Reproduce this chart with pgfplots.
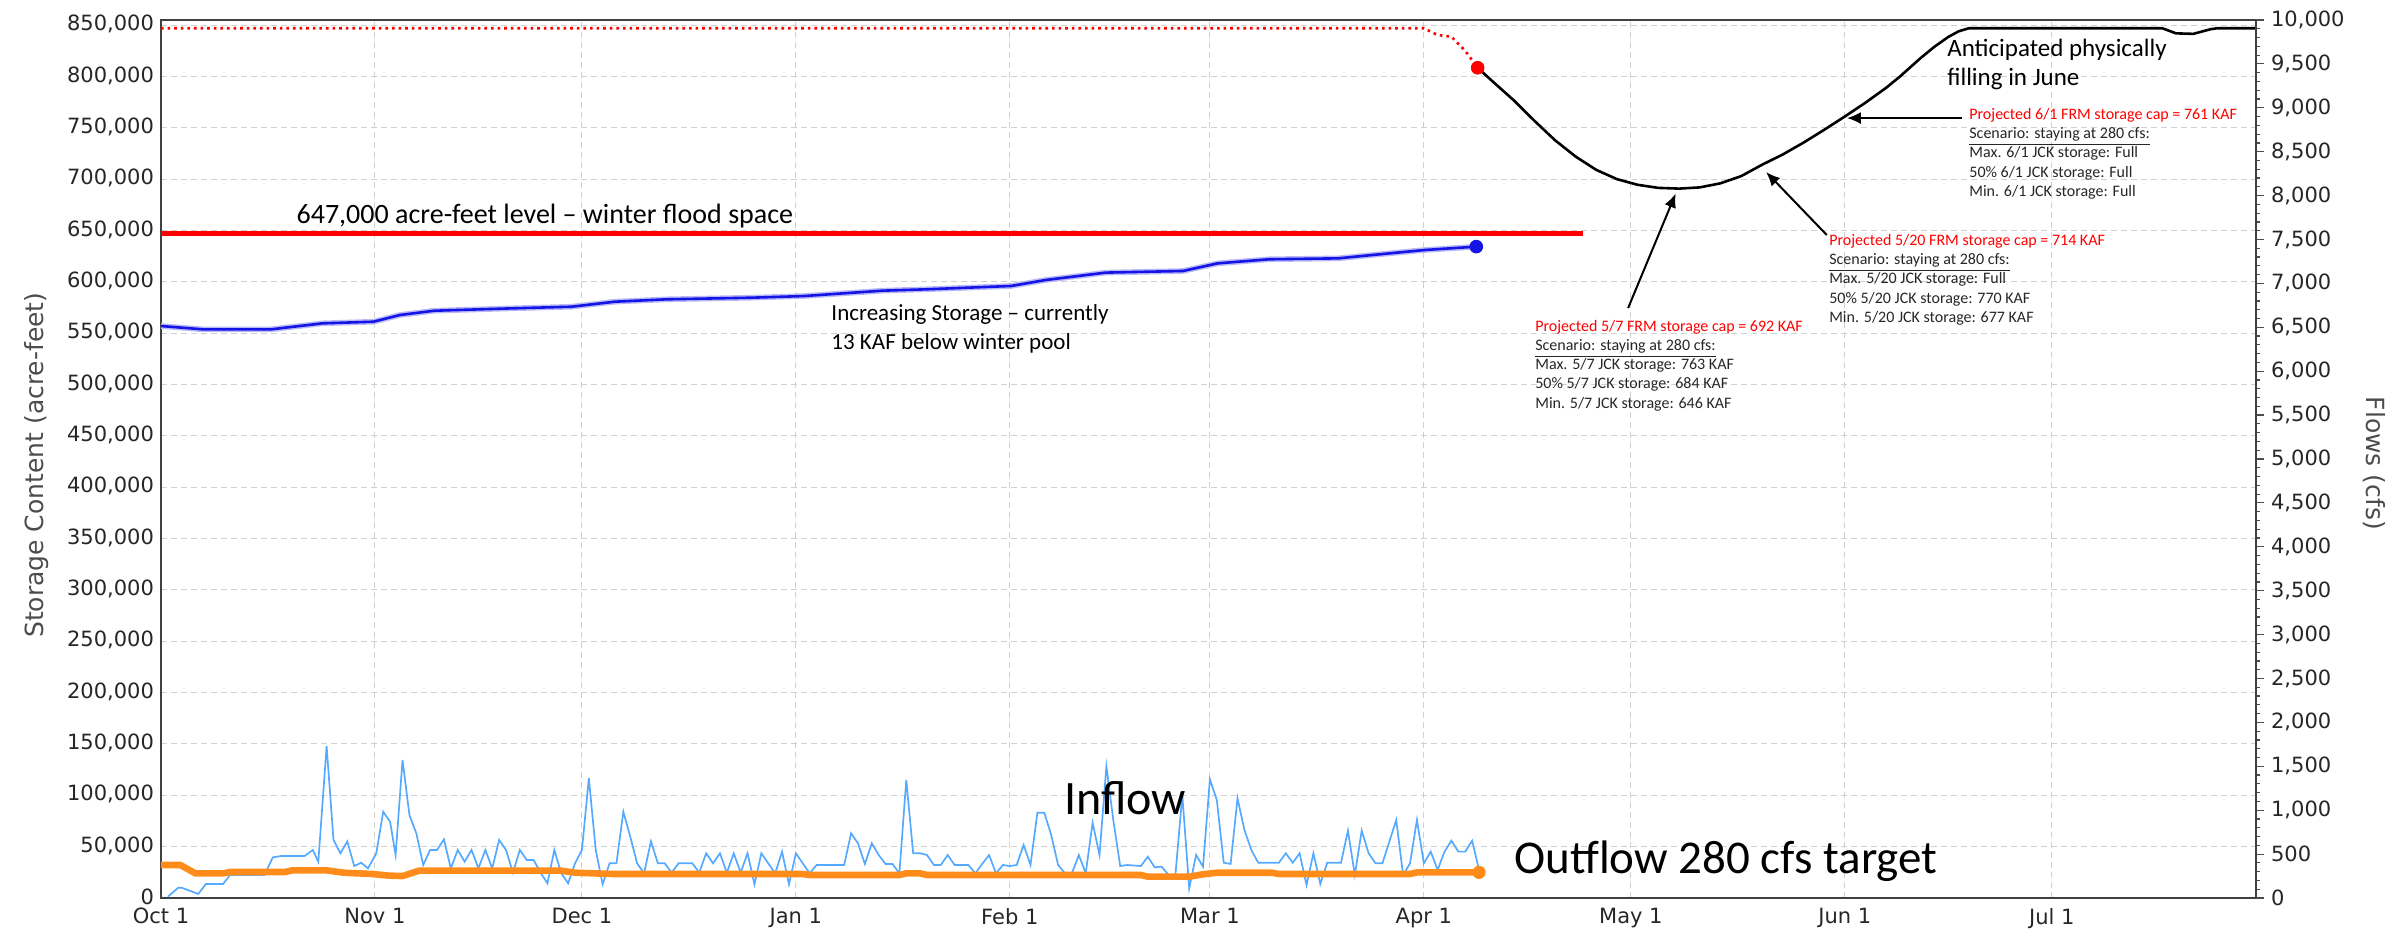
\documentclass[border=0pt]{standalone}
\usepackage{fontspec}
\setmainfont{DejaVu Sans}
\newfontfamily\calibri{Carlito}
\usepackage{pgfplots}
\pgfplotsset{compat=1.18}
\usetikzlibrary{arrows.meta}
\definecolor{storblue}{HTML}{1414E6}
\definecolor{inblue}{HTML}{55AAFF}
\definecolor{outorange}{HTML}{FF8C1A}

\begin{document}
\begin{tikzpicture}
\useasboundingbox (-80.5pt,-19.5pt) rectangle (1123pt,449pt);
% left axis: storage (acre-feet)
\begin{axis}[
  at={(0pt,0pt)}, anchor=south west,
  scale only axis, width=1047.5pt, height=439pt,
  xmin=0, xmax=303.6, ymin=0, ymax=855000,
  xtick={0,31,61,92,123,152,183,213,244,274},
  xticklabels={Oct 1,Nov 1,Dec 1,Jan 1,Feb 1,Mar 1,Apr 1,May 1,Jun 1,Jul 1},
  ytick distance=50000, scaled y ticks=false,
  yticklabel={\pgfmathprintnumber[fixed,precision=0,1000 sep={,},assume math mode=true]{\tick}},
  tick label style={font=\fontsize{10.5}{12}\selectfont, text=black!85},
  xticklabel style={yshift=-1.5pt},
  yticklabel style={yshift=0.5pt},
  major tick length=0pt,
  xmajorgrids, ymajorgrids,
  grid style={densely dashed, black!18, line width=0.5pt},
  axis line style={black!75, line width=1pt},
  every axis y label/.style={at={(axis description cs:-0.0592,0.493)}, rotate=90, anchor=center},
  ylabel={Storage Content (acre-feet)},
  ylabel style={font=\fontsize{12.5}{14}\selectfont, text=black!70},
]
% winter flood space level
\addplot[red, line width=2.2pt] coordinates {(0,647000) (206,647000)};
% full pool / FRM cap so far
\addplot[red, dotted, line width=1.3pt] coordinates {
  (0,847000) (183,847000) (185,840400) (187,838700) (189,825000) (190.8,808500)};
% projected FRM storage cap
\addplot[black, line width=1.3pt] coordinates {
  (190.8,808500) (193,795000) (196,777000) (199,757000) (202,738000) (205,722000)
  (208,709000) (211,700000) (214,694500) (217,691500) (220,690800) (223,692000)
  (226,696000) (229,703000) (232,714000) (235,724000) (238,735500) (241,748000)
  (244,761000) (247,774500) (250,789000) (252,800000) (255,818000) (257,829000)
  (259,838500) (260.5,844000) (262,847000) (290,847000) (292,842000) (294.5,841500)
  (297,846000) (298,847000) (303.6,847000)};
% storage
\addplot[storblue!30, line width=2.8pt] coordinates {
  (0,557000) (6,553800) (16,553800) (23.4,559600) (30.8,561200) (34.6,567700)
  (39.6,571900) (50.8,574200) (59.5,575800) (65.8,580700) (73.3,583000) (85.7,584600)
  (93.2,586200) (104.5,591400) (110.7,592700) (123.2,596000) (128.2,601800) (136.9,609000)
  (148.1,610600) (153.1,618000) (160.6,622000) (170.6,622900) (175.6,626200) (183.1,631000)
  (190.6,634300)};
\addplot[storblue, line width=1.3pt] coordinates {
  (0,557000) (6,553800) (16,553800) (23.4,559600) (30.8,561200) (34.6,567700)
  (39.6,571900) (50.8,574200) (59.5,575800) (65.8,580700) (73.3,583000) (85.7,584600)
  (93.2,586200) (104.5,591400) (110.7,592700) (123.2,596000) (128.2,601800) (136.9,609000)
  (148.1,610600) (153.1,618000) (160.6,622000) (170.6,622900) (175.6,626200) (183.1,631000)
  (190.6,634300)};
\addplot[only marks, mark=*, mark size=3.2pt, red] coordinates {(190.8,808500)};
\addplot[only marks, mark=*, mark size=3.2pt, storblue] coordinates {(190.6,634300)};
% anchor points for the notes
\coordinate (floodlbl) at (axis cs:19.6,657300);
\coordinate (incr) at (axis cs:97.1,578400);
\coordinate (antic) at (axis cs:258.8,836300);
\coordinate (p57) at (axis cs:199.1,563000);
\coordinate (p520) at (axis cs:241.7,646600);
\coordinate (p61) at (axis cs:262,769300);
\coordinate (inlbl) at (axis cs:130.8,81800);
\coordinate (outlbl) at (axis cs:196.1,24300);
\coordinate (a57s) at (axis cs:212.6,574500);
\coordinate (a57e) at (axis cs:219.5,686000);
\coordinate (a520s) at (axis cs:241.4,645600);
\coordinate (a520e) at (axis cs:232.6,707000);
\coordinate (a61s) at (axis cs:261,759500);
\coordinate (a61e) at (axis cs:244.3,759500);
\end{axis}
% right axis: flows (cfs)
\begin{axis}[
  at={(0pt,0pt)}, anchor=south west,
  scale only axis, width=1047.5pt, height=439pt,
  xmin=0, xmax=303.6, ymin=0, ymax=10000,
  axis x line=none, axis y line*=right,
  ytick distance=500, minor y tick num=4, scaled y ticks=false,
  yticklabel={\pgfmathprintnumber[fixed,precision=0,1000 sep={,},assume math mode=true]{\tick}},
  tick label style={font=\fontsize{10.5}{12}\selectfont, text=black!85},
  tick align=outside, major tick length=4pt, minor tick length=2pt,
  tick style={black!70, line width=0.6pt},
  axis line style={black!75, line width=1pt},
  every axis y label/.style={at={(axis description cs:1.0563,0.495)}, rotate=-90, anchor=center},
  ylabel={Flows (cfs)},
  ylabel style={font=\fontsize{12.5}{14}\selectfont, text=black!70},
]
% inflow
\addplot[inblue, line width=0.85pt] coordinates {
  (1,15) (2.5,117) (3,117) (5.4,46) (6.5,159) (9,159) (10,262) (15,262) (16.2,463)
  (17.4,478) (20.8,478) (22,547) (22.8,414) (24,1730) (25,661) (26,509) (27,645)
  (28,364) (29,402) (30,338) (31.2,509) (32.2,983) (33.2,869) (34,490) (35,1572)
  (36,945) (37,737) (38,376) (39,547) (40,547) (41,668) (42,338) (43,547) (44,414)
  (45,547) (46,338) (47,547) (48,338) (49,661) (50,547) (51,289) (52,547) (53,433)
  (54,433) (55,289) (56,167) (57,547) (58,281) (59,167) (60,395) (61,547) (62,1363)
  (63,547) (64,156) (65,395) (66,395) (67,983) (68,698) (69,395) (70,281) (71,645)
  (72,395) (73,395) (74,289) (75,395) (77,395) (78,289) (79,509) (80,395) (81,509)
  (82,289) (83,509) (84,289) (85,509) (86,156) (87,509) (88,395) (89,281) (90,528)
  (91,156) (92,509) (93,395) (94,281) (95,376) (99,376) (100,737) (101,623) (102,388)
  (103,623) (104,490) (105,388) (106,388) (107,281) (108,1344) (109,509) (110,509)
  (111,490) (112,376) (113,376) (114,490) (115,376) (117,376) (118,281) (119,388)
  (120,490) (121,281) (122,376) (123,364) (124,376) (125,604) (126,376) (127,972)
  (128,972) (129,718) (130,376) (131,281) (132,281) (133,490) (134,281) (135,858)
  (136,490) (137,1500) (138,888) (139,364) (140,376) (142,364) (143,471) (144,349)
  (145,357) (146,262) (147,262) (148,1173) (149,110) (150,490) (151,357) (152,1352)
  (153,1116) (154,402) (155,388) (156,1136) (157,775) (158,547) (159,402) (162,402)
  (163,509) (164,402) (165,509) (166,148) (167,509) (168,160) (169,402) (171,402)
  (172,767) (173,262) (174,767) (175,509) (176,395) (177,395) (178,641) (179,888)
  (180,262) (181,395) (182,888) (183,395) (184,528) (185,319) (186,528) (187,653)
  (188,528) (189,528) (190,653) (191,319)};
% outflow
\addplot[outorange, line width=3.3pt, line join=round] coordinates {
  (0,376) (2.8,376) (5,280) (9,280) (10,296) (18,296) (19,315) (24,315) (26.5,288)
  (30.7,273) (33,255) (35,250) (37.4,311) (58,311) (60,288) (65.7,273) (93,273)
  (94,262) (107,262) (108,281) (110,281) (111,262) (142,262) (143,243) (149,243)
  (151,270) (153,288) (161,288) (162,273) (181,273) (182,292) (191,292)};
\addplot[only marks, mark=*, mark size=3.1pt, outorange] coordinates {(191,292)};
\end{axis}
% notes
\node[anchor=base west, inner sep=0pt, font=\calibri\fontsize{14}{17}\selectfont] at (floodlbl)
  {647,000 acre-feet level – winter flood space};
\node[anchor=north west, inner sep=0pt, align=left, font=\calibri\fontsize{11.5}{14.5}\selectfont] at (incr)
  {Increasing Storage – currently\\13 KAF below winter pool};
\node[anchor=north west, inner sep=0pt, align=left, font=\calibri\fontsize{12.5}{14.2}\selectfont] at (antic)
  {Anticipated physically\\filling in June};
\node[anchor=base west, inner sep=0pt, font=\calibri\fontsize{24}{28}\selectfont] at (inlbl) {Inflow};
\node[anchor=base west, inner sep=0pt, font=\calibri\fontsize{23.5}{28}\selectfont] at (outlbl) {Outflow 280 cfs target};
\node[anchor=north west, inner sep=0pt, align=left, text=black!85, font=\calibri\fontsize{8}{9.6}\selectfont] at (p57)
  {\textcolor{red}{Projected 5/7 FRM storage cap = 692 KAF}\\\underline{Scenario: staying at 280 cfs:}\\Max. 5/7 JCK storage: 763 KAF\\50\% 5/7 JCK storage: 684 KAF\\Min. 5/7 JCK storage: 646 KAF};
\node[anchor=north west, inner sep=0pt, align=left, text=black!85, font=\calibri\fontsize{8}{9.6}\selectfont] at (p520)
  {\textcolor{red}{Projected 5/20 FRM storage cap = 714 KAF}\\\underline{Scenario: staying at 280 cfs:}\\Max. 5/20 JCK storage: Full\\50\% 5/20 JCK storage: 770 KAF\\Min. 5/20 JCK storage: 677 KAF};
\node[anchor=north west, inner sep=0pt, align=left, text=black!85, font=\calibri\fontsize{8}{9.6}\selectfont] at (p61)
  {\textcolor{red}{Projected 6/1 FRM storage cap = 761 KAF}\\\underline{Scenario: staying at 280 cfs:}\\Max. 6/1 JCK storage: Full\\50\% 6/1 JCK storage: Full\\Min. 6/1 JCK storage: Full};
\draw[black, line width=1pt, -{Latex[length=7pt,width=6pt]}] (a57s) -- (a57e);
\draw[black, line width=1pt, -{Latex[length=7pt,width=6pt]}] (a520s) -- (a520e);
\draw[black, line width=1pt, -{Latex[length=7pt,width=6pt]}] (a61s) -- (a61e);
\end{tikzpicture}
\end{document}
